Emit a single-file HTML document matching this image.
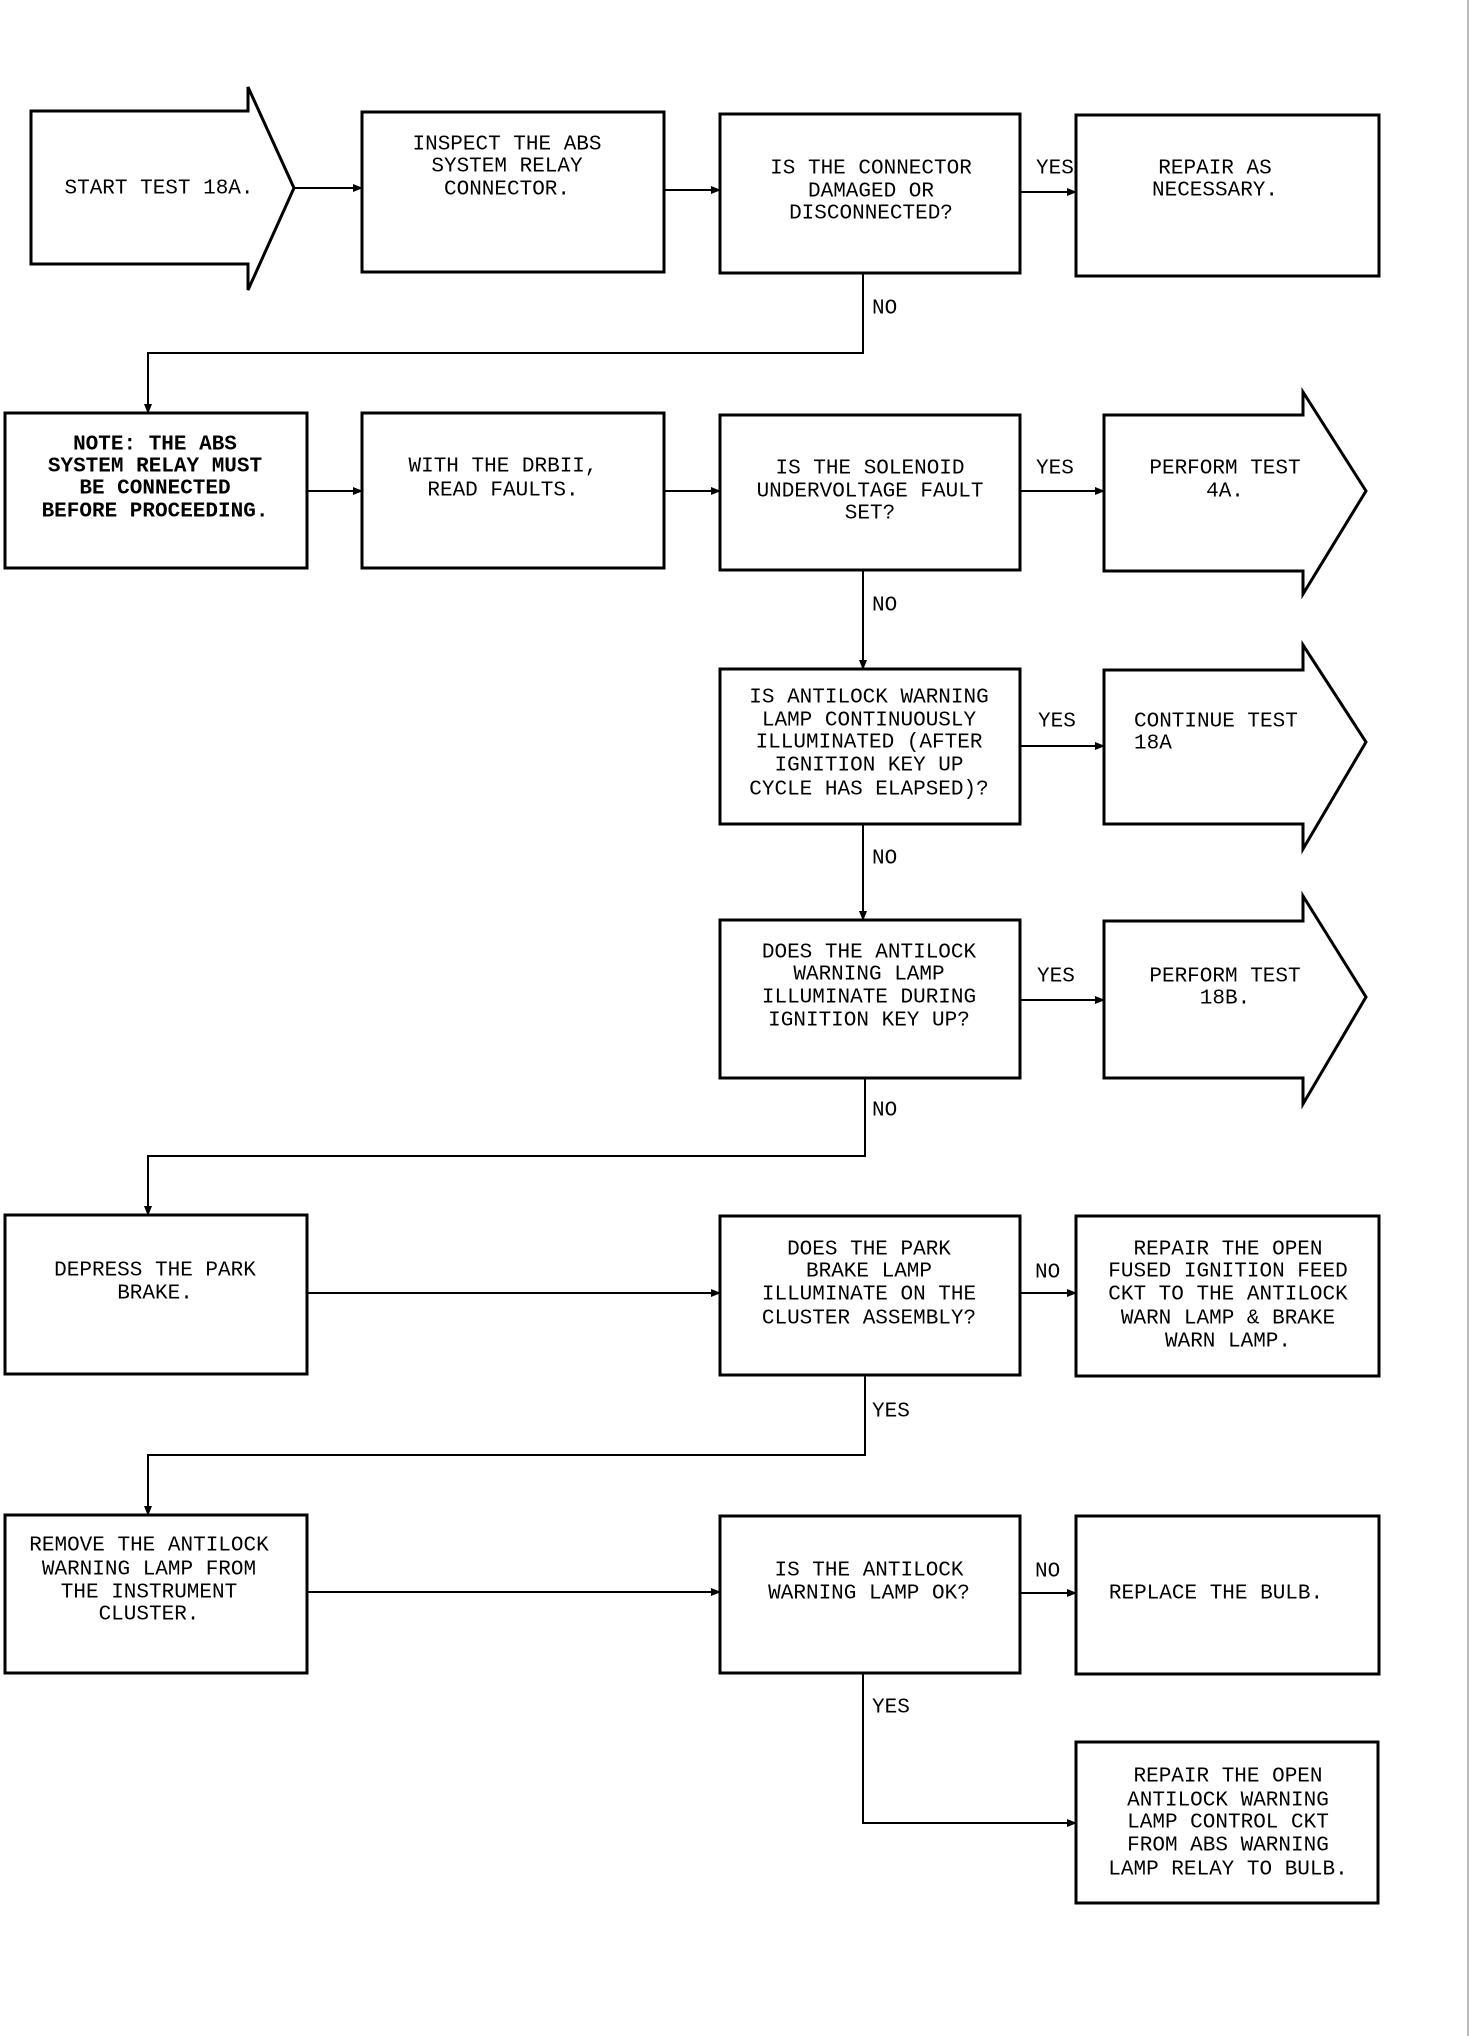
<!DOCTYPE html>
<html><head><meta charset="utf-8"><style>
html,body{margin:0;padding:0;background:#fff;}
svg{display:block;}
text{font-family:"Liberation Mono",monospace;font-size:21px;fill:#000;dominant-baseline:middle;}
</style></head><body>
<svg width="1472" height="2036" viewBox="0 0 1472 2036" xmlns="http://www.w3.org/2000/svg">
<defs><marker id="a" markerWidth="10" markerHeight="8" refX="9" refY="4" orient="auto" markerUnits="userSpaceOnUse"><path d="M0,0 L10,4 L0,8 z" fill="#000"/></marker></defs>
<rect width="1472" height="2036" fill="#fff"/>
<line x1="1468" y1="0" x2="1468" y2="2036" stroke="#bbb" stroke-width="2"/>
<g fill="none" stroke="#000" stroke-width="3">
<!-- row1 -->
<path d="M31,111 L248,111 L248,87 L294,188 L248,290 L248,264 L31,264 Z"/>
<rect x="362" y="112" width="302" height="160"/>
<rect x="720" y="114" width="300" height="159"/>
<rect x="1076" y="115" width="303" height="161"/>
<!-- row2 -->
<rect x="5" y="413" width="302" height="155"/>
<rect x="362" y="413" width="302" height="155"/>
<rect x="720" y="415" width="300" height="155"/>
<path d="M1104,415 L1303,415 L1303,392 L1366,491 L1303,594 L1303,571 L1104,571 Z"/>
<!-- row3 -->
<rect x="720" y="669" width="300" height="155"/>
<path d="M1104,670 L1303,670 L1303,645 L1366,742 L1303,849 L1303,824 L1104,824 Z"/>
<!-- row4 -->
<rect x="720" y="920" width="300" height="158"/>
<path d="M1104,921 L1303,921 L1303,896 L1366,997 L1303,1104 L1303,1078 L1104,1078 Z"/>
<!-- row5 -->
<rect x="5" y="1215" width="302" height="159"/>
<rect x="720" y="1216" width="300" height="159"/>
<rect x="1076" y="1216" width="303" height="160"/>
<!-- row6 -->
<rect x="5" y="1515" width="302" height="158"/>
<rect x="720" y="1516" width="300" height="157"/>
<rect x="1076" y="1516" width="303" height="158"/>
<rect x="1076" y="1742" width="302" height="161"/>
</g>
<g fill="none" stroke="#000" stroke-width="2" marker-end="url(#a)">
<line x1="294" y1="188" x2="362" y2="188"/>
<line x1="664" y1="190" x2="720" y2="190"/>
<line x1="1020" y1="192" x2="1076" y2="192"/>
<path d="M863,273 L863,353 L148,353 L148,413"/>
<line x1="307" y1="491" x2="362" y2="491"/>
<line x1="664" y1="491" x2="720" y2="491"/>
<line x1="1020" y1="491" x2="1104" y2="491"/>
<line x1="863" y1="570" x2="863" y2="669"/>
<line x1="1020" y1="746" x2="1104" y2="746"/>
<line x1="863" y1="824" x2="863" y2="920"/>
<line x1="1020" y1="1000" x2="1104" y2="1000"/>
<path d="M865,1078 L865,1156 L148,1156 L148,1215"/>
<line x1="307" y1="1293" x2="720" y2="1293"/>
<line x1="1020" y1="1293" x2="1076" y2="1293"/>
<path d="M865,1375 L865,1455 L148,1455 L148,1515"/>
<line x1="307" y1="1592" x2="720" y2="1592"/>
<line x1="1020" y1="1593" x2="1076" y2="1593"/>
<path d="M863,1673 L863,1823 L1076,1823"/>
</g>
<g text-anchor="middle">
<text x="159" y="188">START TEST 18A.</text>
<text x="507" y="144">INSPECT THE ABS</text>
<text x="507" y="166">SYSTEM RELAY</text>
<text x="507" y="189">CONNECTOR.</text>
<text x="871" y="168">IS THE CONNECTOR</text>
<text x="871" y="191">DAMAGED OR</text>
<text x="871" y="213">DISCONNECTED?</text>
<text x="1215" y="168">REPAIR AS</text>
<text x="1215" y="190">NECESSARY.</text>
<text x="155" y="444" font-weight="bold">NOTE:  THE ABS</text>
<text x="155" y="466" font-weight="bold">SYSTEM RELAY MUST</text>
<text x="155" y="488" font-weight="bold">BE CONNECTED</text>
<text x="155" y="511" font-weight="bold">BEFORE PROCEEDING.</text>
<text x="503" y="466">WITH THE DRBII,</text>
<text x="503" y="490">READ FAULTS.</text>
<text x="870" y="468">IS THE SOLENOID</text>
<text x="870" y="491">UNDERVOLTAGE FAULT</text>
<text x="870" y="513">SET?</text>
<text x="1225" y="468">PERFORM TEST</text>
<text x="1225" y="491">4A.</text>
<text x="869" y="697">IS ANTILOCK WARNING</text>
<text x="869" y="720">LAMP CONTINUOUSLY</text>
<text x="869" y="742">ILLUMINATED (AFTER</text>
<text x="869" y="765">IGNITION KEY UP</text>
<text x="869" y="789">CYCLE HAS ELAPSED)?</text>
<text x="869" y="952">DOES THE ANTILOCK</text>
<text x="869" y="974">WARNING LAMP</text>
<text x="869" y="997">ILLUMINATE DURING</text>
<text x="869" y="1020">IGNITION KEY UP?</text>
<text x="1225" y="976">PERFORM TEST</text>
<text x="1225" y="998">18B.</text>
<text x="155" y="1270">DEPRESS THE PARK</text>
<text x="155" y="1293">BRAKE.</text>
<text x="869" y="1249">DOES THE PARK</text>
<text x="869" y="1271">BRAKE LAMP</text>
<text x="869" y="1294">ILLUMINATE ON THE</text>
<text x="869" y="1318">CLUSTER ASSEMBLY?</text>
<text x="1228" y="1249">REPAIR THE OPEN</text>
<text x="1228" y="1271">FUSED IGNITION FEED</text>
<text x="1228" y="1294">CKT TO THE ANTILOCK</text>
<text x="1228" y="1318">WARN LAMP &amp; BRAKE</text>
<text x="1228" y="1341">WARN LAMP.</text>
<text x="149" y="1545">REMOVE THE ANTILOCK</text>
<text x="149" y="1569">WARNING LAMP FROM</text>
<text x="149" y="1592">THE INSTRUMENT</text>
<text x="149" y="1614">CLUSTER.</text>
<text x="869" y="1570">IS THE ANTILOCK</text>
<text x="869" y="1593">WARNING LAMP OK?</text>
<text x="1216" y="1593">REPLACE THE BULB.</text>
<text x="1228" y="1776">REPAIR THE OPEN</text>
<text x="1228" y="1800">ANTILOCK WARNING</text>
<text x="1228" y="1822">LAMP CONTROL CKT</text>
<text x="1228" y="1845">FROM ABS WARNING</text>
<text x="1228" y="1869">LAMP RELAY TO BULB.</text>
</g>
<g text-anchor="start">
<text x="1134" y="721">CONTINUE TEST</text>
<text x="1134" y="743">18A</text>
<text x="1036" y="168">YES</text>
<text x="872" y="308">NO</text>
<text x="1036" y="468">YES</text>
<text x="872" y="605">NO</text>
<text x="1038" y="721">YES</text>
<text x="872" y="858">NO</text>
<text x="1037" y="976">YES</text>
<text x="872" y="1110">NO</text>
<text x="1035" y="1272">NO</text>
<text x="872" y="1411">YES</text>
<text x="1035" y="1571">NO</text>
<text x="872" y="1707">YES</text>
</g>
</svg>
</body></html>
